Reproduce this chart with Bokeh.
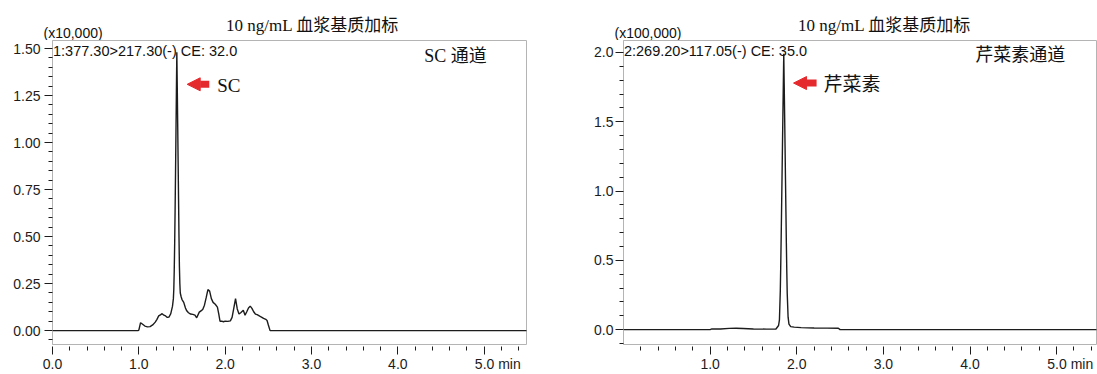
from bokeh.plotting import figure
from bokeh.models import (Range1d, FixedTicker, Label, Arrow, NormalHead,
                          ColumnDataSource, PrintfTickFormatter)
from bokeh.layouts import row, column
from bokeh.embed import file_html
from bokeh.resources import INLINE

# ---------------- data ----------------
panel_title = "10 ng/mL 血浆基质加标"

sc_channel = "SC 通道"
sc_transition = "1:377.30>217.30(-) CE: 32.0"
sc_scale = "(x10,000)"
sc_name = "SC"
sc_time = [0.00, 0.99, 1.00, 1.02, 1.04, 1.07, 1.10, 1.13, 1.16, 1.19, 1.21, 1.23,
           1.25, 1.27, 1.29, 1.31, 1.33, 1.35, 1.37, 1.39, 1.40, 1.405, 1.41, 1.415,
           1.42, 1.425, 1.43, 1.435, 1.44, 1.445, 1.45, 1.455, 1.46, 1.465, 1.47,
           1.475, 1.48, 1.49, 1.50, 1.52, 1.54, 1.555, 1.575, 1.60, 1.625, 1.65,
           1.67, 1.70, 1.72, 1.74, 1.76, 1.78, 1.80, 1.82, 1.84, 1.86, 1.885, 1.91,
           1.925, 1.94, 1.96, 1.98, 2.00, 2.03, 2.06, 2.08, 2.10, 2.12, 2.14, 2.16,
           2.18, 2.21, 2.23, 2.25, 2.27, 2.29, 2.31, 2.33, 2.35, 2.37, 2.40, 2.42,
           2.445, 2.47, 2.485, 2.50, 2.52, 5.50]
sc_signal = [0.0, 0.0, 0.002, 0.042, 0.035, 0.024, 0.020, 0.021, 0.030, 0.045, 0.060, 0.078,
             0.084, 0.090, 0.082, 0.078, 0.070, 0.072, 0.090, 0.130, 0.170, 0.220, 0.320, 0.460,
             0.640, 0.840, 1.050, 1.270, 1.480, 1.300, 1.100, 0.900, 0.700, 0.500, 0.340,
             0.250, 0.200, 0.180, 0.165, 0.150, 0.120, 0.105, 0.095, 0.088, 0.086, 0.082,
             0.068, 0.098, 0.105, 0.112, 0.135, 0.175, 0.218, 0.210, 0.170, 0.150, 0.140, 0.125,
             0.090, 0.050, 0.050, 0.047, 0.050, 0.049, 0.052, 0.070, 0.120, 0.170, 0.115, 0.088,
             0.095, 0.108, 0.082, 0.100, 0.120, 0.130, 0.118, 0.100, 0.088, 0.085, 0.077, 0.072,
             0.065, 0.060, 0.054, 0.030, 0.0, 0.0]

ap_channel = "芹菜素通道"
ap_transition = "2:269.20>117.05(-) CE: 35.0"
ap_scale = "(x100,000)"
ap_name = "芹菜素"
ap_time = [0.00, 1.00, 1.02, 1.12, 1.22, 1.30, 1.38, 1.50, 1.65, 1.76, 1.79, 1.80, 1.81,
           1.815, 1.82, 1.825, 1.83, 1.835, 1.84, 1.845, 1.85, 1.855, 1.86, 1.865, 1.87,
           1.875, 1.88, 1.885, 1.89, 1.90, 1.91, 1.93, 1.97, 2.05, 2.20, 2.35, 2.48, 2.50, 5.50]
ap_signal = [0.0, 0.0, 0.005, 0.005, 0.009, 0.010, 0.008, 0.005, 0.004, 0.005, 0.030, 0.070, 0.280,
             0.460, 0.660, 0.880, 1.100, 1.330, 1.550, 1.770, 1.990, 1.770, 1.550, 1.320, 1.080,
             0.850, 0.620, 0.420, 0.260, 0.090, 0.040, 0.022, 0.018, 0.015, 0.012, 0.011, 0.010, 0.0, 0.0]

x_major_left = [0, 1, 2, 3, 4, 5]
x_major_right = [1, 2, 3, 4, 5]
x_minor = [0.2, 0.4, 0.6, 0.8, 1.2, 1.4, 1.6, 1.8, 2.2, 2.4, 2.6, 2.8, 3.2, 3.4, 3.6, 3.8,
           4.2, 4.4, 4.6, 4.8, 5.2, 5.4]
x_unit = "min"
y_major_left = [0.0, 0.25, 0.5, 0.75, 1.0, 1.25, 1.5]
y_minor_left = [-0.05, 0.05, 0.1, 0.15, 0.2, 0.3, 0.35, 0.4, 0.45, 0.55, 0.6, 0.65, 0.7,
                0.8, 0.85, 0.9, 0.95, 1.05, 1.1, 1.15, 1.2, 1.3, 1.35, 1.4, 1.45]
y_major_right = [0.0, 0.5, 1.0, 1.5, 2.0]
y_minor_right = [-0.1, 0.1, 0.2, 0.3, 0.4, 0.6, 0.7, 0.8, 0.9, 1.1, 1.2, 1.3, 1.4,
                 1.6, 1.7, 1.8, 1.9]

SERIF = "Liberation Serif, Noto Sans CJK SC"
SANS = "Liberation Sans"
RED = "#e52a2e"
FRAME = "#b4b4b4"
INK = "#1c1c1c"
HEADER_H = 40
TOTAL_W = 1097


def make_header():
    # full-width strip above both plot frames; ranges in pixels (y down from top)
    h = figure(width=TOTAL_W, height=HEADER_H, x_range=Range1d(0, TOTAL_W),
               y_range=Range1d(HEADER_H, 0), output_backend="svg",
               toolbar_location=None, title=None, x_axis_type=None, y_axis_type=None,
               min_border=0, min_border_left=0, min_border_right=0,
               min_border_top=0, min_border_bottom=0,
               background_fill_color="white", border_fill_color="white")
    h.grid.visible = False
    h.outline_line_color = None
    for tx in (312, 884):
        h.add_layout(Label(x=tx, y=24.5, text=panel_title, text_align="center",
                           text_baseline="middle", text_font=SERIF,
                           text_font_size="17px", text_color="#111111"))
    for sx, st in ((43, sc_scale), (614, ap_scale)):
        h.add_layout(Label(x=sx, y=32, text=st, text_align="left",
                           text_baseline="middle", text_font=SANS,
                           text_font_size="14px", text_color="#111111"))
    return h


def make_panel(width, bl, br, xr, yr, xmaj, ymaj, ymin, yfmt, ystand,
               t, s, trans_xy, trans_txt, chan_xy, chan_txt, arrow_xy, name_xy, name_txt):
    p = figure(width=width, height=374 - HEADER_H, x_range=Range1d(*xr), y_range=Range1d(*yr),
               output_backend="svg", toolbar_location=None, title=None,
               min_border_left=bl, min_border_right=br, min_border_top=0,
               min_border_bottom=27, background_fill_color="white",
               border_fill_color="white")
    p.grid.visible = False
    p.outline_line_color = FRAME
    p.outline_line_width = 1

    src = ColumnDataSource(dict(t=t, s=s))
    p.line("t", "s", source=src, line_color=INK, line_width=1.4)

    xa = p.xaxis[0]
    xa.ticker = FixedTicker(ticks=xmaj, minor_ticks=x_minor)
    xa.formatter = PrintfTickFormatter(format="%.1f")
    xa.major_label_overrides = {5: "\u00a0" * 7 + "5.0 " + x_unit}
    xa.axis_line_color = None
    xa.major_tick_in = -2
    xa.major_tick_out = 10
    xa.minor_tick_in = -2
    xa.minor_tick_out = 6
    xa.major_tick_line_color = INK
    xa.minor_tick_line_color = INK
    xa.major_label_standoff = 1
    xa.major_label_text_font = SANS
    xa.major_label_text_font_size = "14px"
    xa.major_label_text_color = INK

    ya = p.yaxis[0]
    ya.ticker = FixedTicker(ticks=ymaj, minor_ticks=ymin)
    ya.formatter = PrintfTickFormatter(format=yfmt)
    ya.axis_line_color = FRAME
    ya.major_tick_in = 0
    ya.major_tick_out = 8
    ya.minor_tick_in = 0
    ya.minor_tick_out = 4
    ya.major_tick_line_color = INK
    ya.minor_tick_line_color = INK
    ya.major_label_standoff = ystand
    ya.major_label_text_font = SANS
    ya.major_label_text_font_size = "14px"
    ya.major_label_text_color = INK

    p.add_layout(Label(x=trans_xy[0], y=trans_xy[1], text=trans_txt, text_align="left",
                       text_baseline="middle", text_font=SANS, text_font_size="14.5px",
                       text_color="#111111"))
    p.add_layout(Label(x=chan_xy[0], y=chan_xy[1], text=chan_txt, text_align="right",
                       text_baseline="middle", text_font=SERIF, text_font_size="18px",
                       text_color="#111111"))
    p.add_layout(Arrow(end=NormalHead(size=13, fill_color=RED, line_color=RED, line_width=1),
                       x_start=arrow_xy[1], y_start=arrow_xy[2],
                       x_end=arrow_xy[0], y_end=arrow_xy[2],
                       line_color=RED, line_width=7))
    p.add_layout(Label(x=name_xy[0], y=name_xy[1], text=name_txt, text_align="left",
                       text_baseline="middle", text_font=SERIF, text_font_size="19px",
                       text_color="#111111"))
    return p


h = make_header()
p1 = make_panel(560, 52, 34, (0.0, 5.49), (-0.074, 1.543), x_major_left, y_major_left,
                y_minor_left, "%.2f", 4, sc_time, sc_signal,
                trans_xy=(0.006, 1.487), trans_txt=sc_transition,
                chan_xy=(5.03, 1.458), chan_txt=sc_channel,
                arrow_xy=(1.56, 1.816, 1.31), name_xy=(1.908, 1.305), name_txt=sc_name)

p2 = make_panel(537, 63, 1, (0.0, 5.46), (-0.107, 2.086), x_major_right, y_major_right,
                y_minor_right, "%.1f", 2, ap_time, ap_signal,
                trans_xy=(0.005, 2.010), trans_txt=ap_transition,
                chan_xy=(5.10, 1.979), chan_txt=ap_channel,
                arrow_xy=(1.963, 2.229, 1.779), name_xy=(2.31, 1.768), name_txt=ap_name)

layout = column(h, row(p1, p2))
open("out.html", "w").write(file_html(layout, INLINE))
